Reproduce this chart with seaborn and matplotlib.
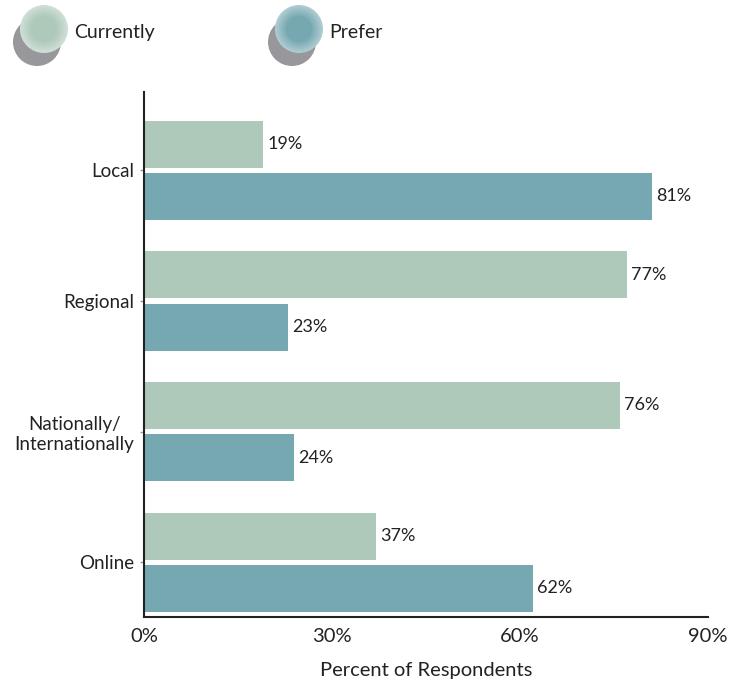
import numpy as np
import pandas as pd
import matplotlib
matplotlib.use("Agg")
import matplotlib.pyplot as plt
from matplotlib.patches import Circle
import seaborn as sns

categories = ["Local", "Regional", "Nationally/\nInternationally", "Online"]
currently = [19, 77, 76, 37]
prefer = [81, 23, 24, 62]
series = ["Currently", "Prefer"]
colors = ["#AEC8BA", "#76A8B2"]

df = pd.DataFrame({
    "category": categories * 2,
    "value": currently + prefer,
    "series": [series[0]] * 4 + [series[1]] * 4,
})

sns.set_style("white")
plt.rcParams["font.family"] = ["Lato", "DejaVu Sans"]

W, H = 732, 691
fig = plt.figure(figsize=(W / 100, H / 100), dpi=100)
ax = fig.add_axes([144 / W, 1 - 617 / H, (708 - 144) / W, (617 - 92) / H])

sns.barplot(data=df, y="category", x="value", hue="series", orient="h",
            palette=colors, width=0.8, gap=0.1, ax=ax, legend=False,
            saturation=1, edgecolor="none")

for cont in ax.containers:
    ax.bar_label(cont, fmt="%d%%", padding=3, fontsize=13, color="#222222")

ax.set_xlim(0, 90)
ax.set_ylim(3.42, -0.6)
ax.set_xticks([0, 30, 60, 90])
ax.set_xticklabels(["0%", "30%", "60%", "90%"], fontsize=14.5, color="#222222")
ax.tick_params(axis="x", length=0, pad=8)
ax.tick_params(axis="y", length=3, width=1, color="#999999", labelsize=13.5,
               labelcolor="#222222", pad=4, left=True)
for lab in ax.get_yticklabels():
    lab.set_horizontalalignment("right")
    lab.set_multialignment("center")
ax.set_ylabel("")
ax.set_xlabel("Percent of Respondents", fontsize=14.5, color="#222222", labelpad=12)

for side in ["top", "right"]:
    ax.spines[side].set_visible(False)
for side in ["left", "bottom"]:
    ax.spines[side].set_color("#222222")
    ax.spines[side].set_linewidth(1.5)

# Legend: shaded discs with drop shadows
lax = fig.add_axes([0, 0, 1, 1], zorder=5)
lax.set_xlim(0, W)
lax.set_ylim(H, 0)
lax.axis("off")

def disc(cx, cy, color, label):
    lax.add_patch(Circle((cx - 7, cy + 13), 24, color="#98989C", lw=0))
    base = np.array(matplotlib.colors.to_rgb(color))
    edge = base * 0.6 + 0.4
    for i, r in enumerate(np.linspace(24, 4, 12)):
        t = min(1.0, i / 6)
        c = edge * (1 - t) + base * t
        lax.add_patch(Circle((cx, cy), r, color=c, lw=0))
    lax.text(cx + 30, cy + 3, label, fontsize=14, va="center", ha="left",
             color="#222222")

disc(44, 29, colors[0], series[0])
disc(299, 29, colors[1], series[1])

fig.savefig("out.png", dpi=100)
